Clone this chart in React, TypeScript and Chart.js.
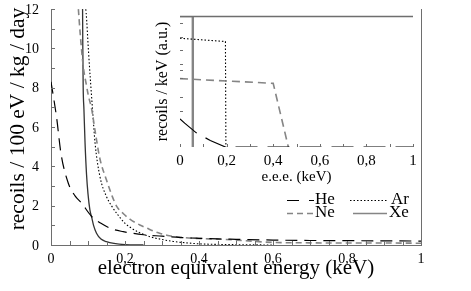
import React, { useEffect, useRef } from "react";
import { Chart, registerables } from "chart.js";

Chart.register(...registerables);

// ---------- main plot data ----------
const heX = [0, 0.015, 0.027, 0.047, 0.065, 0.083, 0.11, 0.135, 0.164, 0.195, 0.25, 0.3, 0.35, 0.4, 0.45, 0.5, 0.6, 0.7, 0.8, 0.9, 1.0];
const heY = [8.3, 6.5, 4.65, 3.13, 2.5, 2.12, 1.45, 1.1, 0.82, 0.68, 0.52, 0.45, 0.38, 0.34, 0.31, 0.29, 0.25, 0.23, 0.22, 0.21, 0.2];

const neX = [0.072, 0.08, 0.087, 0.095, 0.101, 0.11, 0.12, 0.132, 0.15, 0.165, 0.178, 0.195, 0.214, 0.24, 0.26, 0.29, 0.32, 0.36, 0.4, 0.45, 0.5, 0.55, 0.6, 0.7, 0.8, 0.9, 1.0];
const neY = [12.5, 10.5, 9.1, 8.2, 7.6, 6.9, 5.7, 4.4, 3.3, 2.5, 1.95, 1.6, 1.3, 1.02, 0.85, 0.62, 0.47, 0.38, 0.33, 0.3, 0.25, 0.18, 0.13, 0.11, 0.1, 0.1, 0.09];

const arX = [0.089, 0.095, 0.101, 0.107, 0.113, 0.119, 0.132, 0.15, 0.165, 0.18, 0.2, 0.214, 0.24, 0.268, 0.3, 0.33, 0.36, 0.4, 0.45, 0.5, 0.6];
const arY = [12.5, 11.8, 9.95, 8.25, 6.7, 5.2, 3.5, 2.46, 1.95, 1.55, 1.1, 0.9, 0.62, 0.42, 0.28, 0.18, 0.12, 0.06, 0.03, 0.015, 0];

const xeX = [0.085, 0.086, 0.087, 0.089, 0.092, 0.096, 0.1, 0.105, 0.11, 0.115, 0.123, 0.135, 0.15, 0.17, 0.2, 0.25];
const xeY = [13, 10, 8, 6.9, 5.2, 3.6, 2.6, 1.8, 1.4, 1.0, 0.6, 0.3, 0.17, 0.08, 0.02, 0];

// ---------- inset data (arbitrary units) ----------
const inHeX = [0, 0.02, 0.07, 0.13, 0.195, 1];
const inHeY = [2.15, 1.82, 1.08, 0.5, 0, 0];
const inArX = [0, 0.195, 0.197];
const inArY = [8.3, 8.05, 0];
const inNeX = [0, 0.4, 0.465];
const inNeY = [5.22, 4.86, 0];
const inXeX = [0, 0.055, 0.055];
const inXeY = [10, 10, 0];
const insetYTicks = [9.44, 8.37, 7.4, 6.34, 5.85, 5.29, 3.79, 2.77];

const legendNames = ["He", "Ar", "Ne", "Xe"];
const mainXTitle = "electron equivalent energy (keV)";
const mainYTitle = "recoils / 100 eV / kg / day";
const insetXTitle = "e.e.e. (keV)";
const insetYTitle = "recoils / keV (a.u.)";

const FONT = "'Liberation Serif', 'Times New Roman', serif";
const AXIS = "#6e6e6e";
const GRAY = "#858585";

const pts = (xs: number[], ys: number[]) => xs.map((x, i) => ({ x, y: ys[i] }));

const fmtX = (v: number) => {
  if (Math.abs(v * 5 - Math.round(v * 5)) > 1e-6) return "";
  const r = Math.round(v * 5) / 5;
  if (r === 0) return "0";
  if (r === 1) return "1";
  return r.toFixed(1).replace(".", ",");
};
const fmtY = (v: number) => {
  const r = Math.round(v);
  return Math.abs(v - r) < 1e-6 && r % 2 === 0 ? String(r) : "";
};

const mainPlugin = {
  id: "mainDeco",
  afterDraw(chart: any) {
    const { ctx, chartArea: a, scales } = chart;
    ctx.save();
    ctx.strokeStyle = AXIS;
    ctx.lineWidth = 1;
    ctx.setLineDash([]);
    // right frame
    ctx.beginPath();
    ctx.moveTo(Math.round(a.right) + 0.5, a.top);
    ctx.lineTo(Math.round(a.right) + 0.5, a.bottom);
    ctx.stroke();
    // inward ticks
    ctx.beginPath();
    scales.x.ticks.forEach((t: any) => {
      const px = Math.round(scales.x.getPixelForValue(t.value)) + 0.5;
      ctx.moveTo(px, a.bottom);
      ctx.lineTo(px, a.bottom - 4);
    });
    scales.y.ticks.forEach((t: any) => {
      const py = Math.round(scales.y.getPixelForValue(t.value)) + 0.5;
      ctx.moveTo(a.left, py);
      ctx.lineTo(a.left + 4, py);
    });
    ctx.stroke();

    // tick labels
    ctx.fillStyle = "#000";
    ctx.font = `14px ${FONT}`;
    ctx.textAlign = "center";
    ctx.textBaseline = "alphabetic";
    scales.x.ticks.forEach((t: any) => {
      const s = fmtX(t.value);
      if (s) ctx.fillText(s, scales.x.getPixelForValue(t.value), a.bottom + 18);
    });
    ctx.textAlign = "right";
    ctx.textBaseline = "middle";
    scales.y.ticks.forEach((t: any) => {
      const s = fmtY(t.value);
      if (s) ctx.fillText(s, a.left - 12, scales.y.getPixelForValue(t.value) + 1);
    });

    // axis titles
    ctx.font = `21px ${FONT}`;
    ctx.textAlign = "center";
    ctx.textBaseline = "middle";
    ctx.fillText(mainXTitle, (a.left + a.right) / 2, a.bottom + 23);
    ctx.save();
    ctx.translate(18, (a.top + a.bottom) / 2 - 8);
    ctx.rotate(-Math.PI / 2);
    ctx.font = `21.5px ${FONT}`;
    ctx.fillText(mainYTitle, 0, 0);
    ctx.restore();

    // legend
    const r = a.right;
    const b = a.bottom;
    const row1 = b - 45;
    const row2 = b - 32;
    const seg = (x1: number, x2: number, y: number, color: string, dash: number[], w: number) => {
      ctx.beginPath();
      ctx.strokeStyle = color;
      ctx.lineWidth = w;
      ctx.setLineDash(dash);
      ctx.moveTo(x1, y + 0.5);
      ctx.lineTo(x2, y + 0.5);
      ctx.stroke();
    };
    seg(r - 134, r - 107, row1, "#000", [12, 10], 1.2);
    seg(r - 71, r - 33, row1, "#000", [1.5, 2], 1.2);
    seg(r - 134, r - 107, row2, GRAY, [6, 4], 1.6);
    seg(r - 68, r - 34, row2, GRAY, [], 1.6);
    ctx.setLineDash([]);
    ctx.fillStyle = "#000";
    ctx.font = `17px ${FONT}`;
    ctx.textBaseline = "middle";
    ctx.textAlign = "left";
    ctx.fillText(legendNames[0], r - 106, row1);
    ctx.fillText(legendNames[1], r - 30, row1);
    ctx.fillText(legendNames[2], r - 106, row2);
    ctx.fillText(legendNames[3], r - 32, row2);
    ctx.restore();
  },
};

const insetPlugin = {
  id: "insetDeco",
  afterDraw(chart: any) {
    const { ctx, chartArea: a, scales } = chart;
    ctx.save();
    ctx.strokeStyle = AXIS;
    ctx.lineWidth = 1.3;
    ctx.beginPath();
    ctx.moveTo(a.left, Math.round(a.top) + 0.5);
    ctx.lineTo(a.right, Math.round(a.top) + 0.5);
    ctx.stroke();
    ctx.lineWidth = 1;
    ctx.beginPath();
    scales.x.ticks.forEach((t: any) => {
      const px = Math.round(scales.x.getPixelForValue(t.value)) + 0.5;
      ctx.moveTo(px, a.bottom);
      ctx.lineTo(px, a.bottom - 3);
    });
    insetYTicks.forEach((v) => {
      const py = Math.round(scales.y.getPixelForValue(v)) + 0.5;
      ctx.moveTo(a.left, py);
      ctx.lineTo(a.left + 3, py);
    });
    ctx.stroke();

    ctx.fillStyle = "#000";
    ctx.font = `15px ${FONT}`;
    ctx.textAlign = "center";
    ctx.textBaseline = "alphabetic";
    scales.x.ticks.forEach((t: any) => {
      const s = fmtX(t.value);
      if (s) ctx.fillText(s, scales.x.getPixelForValue(t.value), a.bottom + 18);
    });
    ctx.textBaseline = "middle";
    ctx.fillText(insetXTitle, (a.left + a.right) / 2, a.bottom + 30);
    ctx.save();
    ctx.translate(a.left - 17, (a.top + a.bottom) / 2);
    ctx.rotate(-Math.PI / 2);
    ctx.font = `16px ${FONT}`;
    ctx.fillText(insetYTitle, 0, 0);
    ctx.restore();
    ctx.restore();
  },
};

export default function App() {
  const mainRef = useRef<HTMLCanvasElement>(null);
  const insetRef = useRef<HTMLCanvasElement>(null);

  useEffect(() => {
    Chart.defaults.font.family = FONT;
    Chart.defaults.color = "#000";

    const main = new Chart(mainRef.current as HTMLCanvasElement, {
      type: "line",
      data: {
        datasets: [
          { label: "He", data: pts(heX, heY), borderColor: "#000", borderWidth: 1.2, borderDash: [12, 7], pointRadius: 0, cubicInterpolationMode: "monotone" },
          { label: "Ne", data: pts(neX, neY), borderColor: GRAY, borderWidth: 1.6, borderDash: [6, 4], pointRadius: 0, cubicInterpolationMode: "monotone" },
          { label: "Ar", data: pts(arX, arY), borderColor: "#000", borderWidth: 1.1, borderDash: [1.5, 2], pointRadius: 0, cubicInterpolationMode: "monotone" },
          { label: "Xe", data: pts(xeX, xeY), borderColor: "#333", borderWidth: 1.3, pointRadius: 0, cubicInterpolationMode: "monotone" },
        ],
      },
      options: {
        animation: false,
        responsive: false,
        parsing: false,
        layout: { padding: { left: 0, right: 50, top: 9, bottom: 0 } },
        plugins: { legend: { display: false }, tooltip: { enabled: false } },
        scales: {
          x: {
            type: "linear",
            min: 0,
            max: 1,
            afterFit: (s: any) => { s.height = 46; },
            grid: { display: false },
            border: { display: true, color: AXIS, width: 1 },
            ticks: { stepSize: 0.05, autoSkip: false, display: false },
            title: { display: false },
          },
          y: {
            type: "linear",
            min: 0,
            max: 12,
            afterFit: (s: any) => { s.width = 51; },
            grid: { display: false },
            border: { display: true, color: AXIS, width: 1 },
            ticks: { stepSize: 1, autoSkip: false, display: false },
            title: { display: false },
          },
        },
      },
      plugins: [mainPlugin],
    } as any);

    const inset = new Chart(insetRef.current as HTMLCanvasElement, {
      type: "line",
      data: {
        datasets: [
          { label: "He", data: pts(inHeX, inHeY), borderColor: "#000", borderWidth: 1.2, borderDash: [22, 10], pointRadius: 0, tension: 0 },
          { label: "Ne", data: pts(inNeX, inNeY), borderColor: GRAY, borderWidth: 1.6, borderDash: [8, 5], pointRadius: 0, tension: 0 },
          { label: "Ar", data: pts(inArX, inArY), borderColor: "#000", borderWidth: 1.1, borderDash: [1.5, 2], pointRadius: 0, tension: 0 },
          { label: "Xe", data: pts(inXeX, inXeY), borderColor: GRAY, borderWidth: 2.4, pointRadius: 0, tension: 0 },
        ],
      },
      options: {
        animation: false,
        responsive: false,
        parsing: false,
        layout: { padding: { left: 0, right: 12, top: 16, bottom: 0 } },
        plugins: { legend: { display: false }, tooltip: { enabled: false } },
        scales: {
          x: {
            type: "linear",
            min: 0,
            max: 1,
            afterFit: (s: any) => { s.height = 48; },
            grid: { display: false },
            border: { display: false },
            ticks: { stepSize: 0.1, autoSkip: false, display: false },
            title: { display: false },
          },
          y: {
            type: "linear",
            min: 0,
            max: 10,
            afterFit: (s: any) => { s.width = 40; },
            grid: { display: false },
            border: { display: false },
            ticks: { display: false },
            title: { display: false },
          },
        },
      },
      plugins: [insetPlugin],
    } as any);

    return () => {
      main.destroy();
      inset.destroy();
    };
  }, []);

  return (
    <div style={{ position: "absolute", left: 0, top: 0, width: 471, height: 291, background: "#fff" }}>
      <canvas ref={mainRef} width={471} height={291} style={{ position: "absolute", left: 0, top: 0, width: 471, height: 291 }} />
      <canvas ref={insetRef} width={285} height={195} style={{ position: "absolute", left: 140, top: 0, width: 285, height: 195 }} />
    </div>
  );
}
